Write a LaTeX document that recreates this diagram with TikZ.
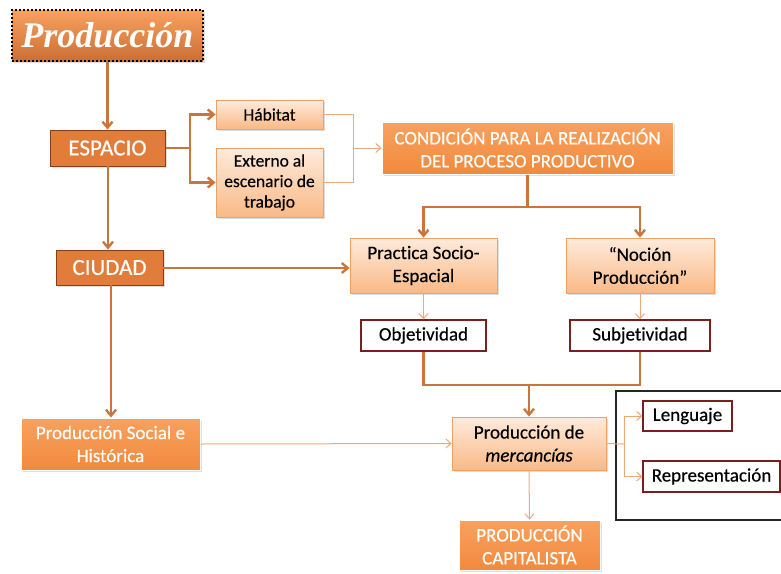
\documentclass[tikz,border=0pt]{standalone}
\usepackage{fontspec}
\setmainfont{Carlito}[Ligatures=NoCommon, FakeBold=0.4]
\newfontfamily\titlefont{Liberation Serif}
\usetikzlibrary{shadows,arrows.meta}
\definecolor{orfill}{HTML}{F79646}
\definecolor{ortop}{HTML}{F8A160}
\definecolor{orbot}{HTML}{F28A3C}
\definecolor{darkor}{HTML}{E27C3A}
\definecolor{brownb}{HTML}{8A3E18}
\definecolor{peachtop}{HTML}{FEEBDC}
\definecolor{peachbot}{HTML}{FAB986}
\definecolor{peachb}{HTML}{F0A060}
\definecolor{conn}{HTML}{C8763E}
\definecolor{thinconn}{HTML}{EFA977}
\definecolor{redb}{HTML}{7A1F1F}
\tikzset{
  box/.style={rectangle, inner sep=0pt, align=center, font=\fontsize{19}{23}\selectfont,
    drop shadow={shadow xshift=1.5pt, shadow yshift=-1.5pt, opacity=0.25}},
  orbox/.style={box, draw=white, line width=1pt, top color=ortop, bottom color=orbot, text=white},
  darkbox/.style={box, draw=brownb, line width=1pt, fill=darkor, text=white, font=\fontsize{23}{26}\selectfont},
  peach/.style={box, draw=peachb, line width=0.8pt, top color=peachtop, bottom color=peachbot, text=black},
  whitebox/.style={rectangle, inner sep=0pt, align=center, draw=redb, line width=1.3pt, fill=white, text=black, font=\fontsize{19}{22}\selectfont},
  thick conn/.style={draw=conn, line width=2.4pt, -{Straight Barb[length=6pt,width=10pt]}},
  thick line/.style={draw=conn, line width=2.4pt},
  thin conn/.style={draw=thinconn, line width=1pt, -{Straight Barb[length=5pt,width=9pt]}},
  thin line/.style={draw=thinconn, line width=1pt},
}
\begin{document}
\begin{tikzpicture}[x=1pt,y=-1pt]
\useasboundingbox (0,0) rectangle (781,573);
\fill[white] (0,0) rectangle (781,573);
% big frame
\draw[draw=black!85, line width=1.6pt, fill=white] (616,391) rectangle (800,520);
% nodes
\node[box, draw=black, dotted, line width=2pt, top color=ortop, bottom color=darkor!90!black, minimum width=191pt, minimum height=51pt, text=white, font=\titlefont\bfseries\itshape\fontsize{36}{40}\selectfont] (title) at (107.5,35.5) {Producción};
\node[darkbox, minimum width=115pt, minimum height=36pt] (esp) at (107.5,148) {ESPACIO};
\node[peach, minimum width=107pt, minimum height=29pt, font=\fontsize{17.5}{20.5}\selectfont] (hab) at (269.5,114.5) {Hábitat};
\node[peach, minimum width=107pt, minimum height=69pt, font=\fontsize{17.5}{20.5}\selectfont] (ext) at (269.5,182.5) {Externo al\\escenario de\\trabajo};
\node[orbox, minimum width=291pt, minimum height=52pt] (cond) at (527.5,148) {CONDICIÓN PARA LA REALIZACIÓN\\DEL PROCESO PRODUCTIVO};
\node[peach, minimum width=147pt, minimum height=55pt] (prac) at (423.5,265.5) {Practica Socio-\\Espacial};
\node[peach, minimum width=148pt, minimum height=55pt] (noc) at (640,265.5) {“Noción\\Producción”};
\node[whitebox, minimum width=125pt, minimum height=31pt] (obj) at (423.5,335.5) {Objetividad};
\node[whitebox, minimum width=140pt, minimum height=31pt] (sub) at (640,335.5) {Subjetividad};
\node[darkbox, minimum width=107pt, minimum height=35pt] (ciud) at (109.5,267.5) {CIUDAD};
\node[orbox, minimum width=179pt, minimum height=52pt] (psoc) at (110.5,444) {Producción Social e\\Histórica};
\node[peach, minimum width=154pt, minimum height=53pt] (merc) at (529,443.5) {Producción de\\\itshape mercancías};
\node[orbox, minimum width=141pt, minimum height=50pt] (cap) at (529.5,545) {PRODUCCIÓN\\CAPITALISTA};
\node[whitebox, minimum width=89pt, minimum height=30pt] (leng) at (687.5,416) {Lenguaje};
\node[whitebox, minimum width=137pt, minimum height=31pt] (rep) at (711.5,476.5) {Representación};
% coordinates
\coordinate (espfork) at (190,148);
\coordinate (condjoin) at (353,148);
\coordinate (condfork) at (527.5,207);
\coordinate (objsub) at (529,385);
\coordinate (mercfork) at (624,444);
\coordinate (espciu) at (108,166);
\coordinate (ciuout) at (163,268);
\coordinate (ciudown) at (111,285);
% connectors
\draw[thick conn] (title.south) -- (esp.north);
\draw[thick line] (esp.east) -- (espfork);
\draw[thick conn] (espfork) |- (hab.west);
\draw[thick conn] (espfork) |- (ext.west);
\draw[thin line] (hab.east) -| (condjoin);
\draw[thin line] (ext.east) -| (condjoin);
\draw[thin conn] (condjoin) -- (cond.west);
\draw[thick line] (cond.south) -- (condfork);
\draw[thick conn] (condfork) -| (prac.north);
\draw[thick conn] (condfork) -| (noc.north);
\draw[thin conn] (prac.south) -- (obj.north);
\draw[thin conn] (noc.south) -- (sub.north);
\draw[thick line] (obj.south) |- (objsub);
\draw[thick line] (sub.south) |- (objsub);
\draw[thick conn] (objsub) -- (merc.north);
\draw[thick conn] (espciu) -- (espciu |- ciud.north);
\draw[thick conn] (ciuout) -- (ciuout -| prac.west);
\draw[thick conn] (ciudown) -- (ciudown |- psoc.north);
\draw[thin conn] (psoc.east) -- (merc.west);
\draw[thin conn] (merc.south) -- (cap.north);
\draw[thin line] (merc.east) -- (mercfork);
\draw[thin conn] (mercfork) |- (leng.west);
\draw[thin conn] (mercfork) |- (rep.west);
\end{tikzpicture}
\end{document}
